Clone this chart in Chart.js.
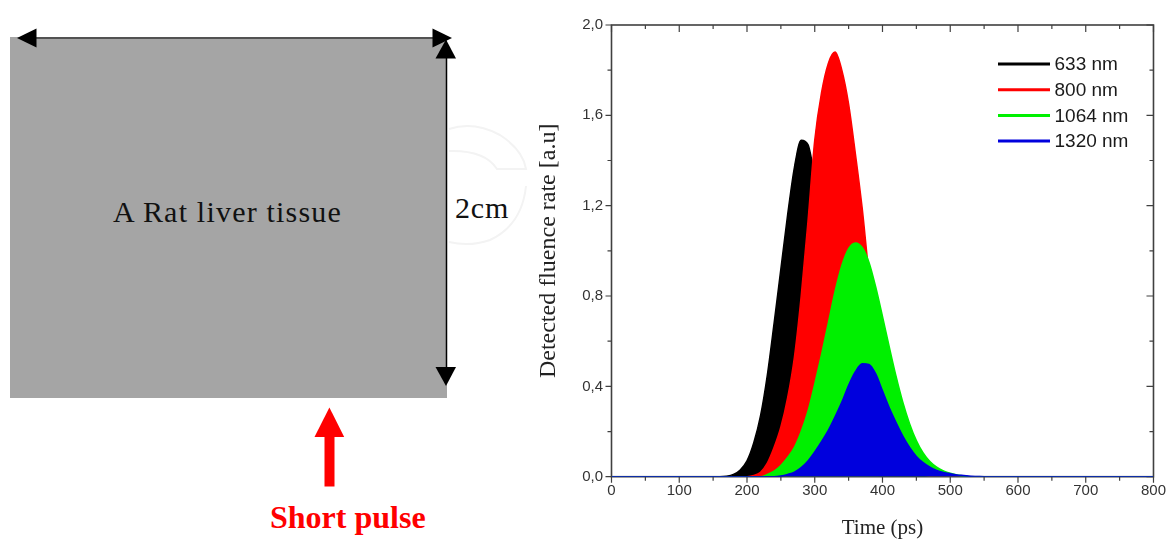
<!DOCTYPE html>
<html>
<head>
<meta charset="utf-8">
<title>Detected fluence rate</title>
<script src="https://cdn.jsdelivr.net/npm/chart.js"></script>
<style>
  html, body { margin: 0; padding: 0; background: #fff; }
  #page { position: relative; width: 1171px; height: 540px; overflow: hidden; }
  #sketch { position: absolute; left: 0; top: 0; }
  #plot { position: absolute; left: 530px; top: 0; width: 641px; height: 540px; }
</style>
</head>
<body>
<div id="page">
  <svg id="sketch" width="530" height="540" xmlns="http://www.w3.org/2000/svg">
    <!-- faint watermark behind the sample -->
    <path d="M449,129 Q474,121 500,135 Q523,150 526,169 L497,169 Q485,150 449,151" fill="none" stroke="#f3f3f3" stroke-width="2"/>
    <path d="M526,186 Q522,225 490,240 Q470,247 449,242" fill="none" stroke="#f3f3f3" stroke-width="2"/>
    <rect x="10" y="37" width="437" height="361" fill="#a5a5a5"/>
    <line x1="30" y1="38" x2="440" y2="38" stroke="#000" stroke-width="1.2"/>
    <polygon points="17,38 36.5,28.5 36.5,47.5" fill="#000"/>
    <polygon points="452,38 432.5,28.5 432.5,47.5" fill="#000"/>
    <line x1="446.5" y1="55" x2="446.5" y2="370" stroke="#000" stroke-width="1.5"/>
    <polygon points="446,39.5 435.5,58.5 456,58.5" fill="#000"/>
    <polygon points="446,386 435.5,367 456,367" fill="#000"/>
    <rect x="324.5" y="436" width="10" height="50.5" fill="#ff0000"/>
    <polygon points="314.5,437 344.2,437 329.4,407.5" fill="#ff0000"/>
    <text x="113" y="222" font-family="'Liberation Serif', 'Times New Roman', serif" font-size="30" letter-spacing="1.2" fill="#111">A Rat liver tissue</text>
    <text x="455" y="217.5" font-family="'Liberation Serif', 'Times New Roman', serif" font-size="30" letter-spacing="0.8" fill="#111">2cm</text>
    <text x="270" y="527.5" font-family="'Liberation Serif', 'Times New Roman', serif" font-size="32" font-weight="bold" fill="#ff0000">Short pulse</text>
  </svg>
  <div id="plot"><canvas id="fluence"></canvas></div>
</div>
<script>
// time axis (ps), shared by all four pulses
const times = [0, 150, 160, 170, 180, 190, 200, 210, 220, 230, 240, 250, 260, 270, 280, 290,
  300, 310, 320, 330, 340, 350, 360, 370, 380, 390, 400, 410, 420, 430, 440, 450, 460, 470,
  480, 490, 500, 510, 520, 530, 540, 550, 560, 570, 580, 590, 600, 800]

// detected fluence rate [a.u]
const nm633 = [0, 0, 0, 0.002, 0.01, 0.03, 0.07, 0.15, 0.27, 0.45, 0.68, 0.92, 1.16, 1.37, 1.49, 1.47,
  1.32, 1.10, 0.82, 0.56, 0.36, 0.21, 0.11, 0.05, 0.02, 0.008, 0.002, 0, 0, 0, 0, 0, 0, 0,
  0, 0, 0, 0, 0, 0, 0, 0, 0, 0, 0, 0, 0, 0]
const nm800 = [0, 0, 0, 0, 0, 0, 0, 0.005, 0.02, 0.06, 0.13, 0.22, 0.35, 0.53, 0.80, 1.13,
  1.49, 1.70, 1.83, 1.88, 1.80, 1.65, 1.43, 1.19, 0.90, 0.68, 0.47, 0.30, 0.18, 0.10, 0.05, 0.02, 0.008, 0.002,
  0, 0, 0, 0, 0, 0, 0, 0, 0, 0, 0, 0, 0, 0]
const nm1064 = [0, 0, 0, 0, 0, 0, 0, 0, 0, 0.01, 0.025, 0.05, 0.085, 0.13, 0.20, 0.29,
  0.41, 0.54, 0.68, 0.82, 0.935, 1.01, 1.035, 1.015, 0.95, 0.84, 0.71, 0.575, 0.445, 0.33, 0.235, 0.16, 0.105, 0.067,
  0.042, 0.026, 0.015, 0.008, 0.003, 0, 0, 0, 0, 0, 0, 0, 0, 0]
const nm1320 = [0, 0, 0, 0, 0, 0, 0, 0, 0, 0, 0, 0.003, 0.01, 0.02, 0.04, 0.07,
  0.11, 0.155, 0.205, 0.265, 0.33, 0.405, 0.465, 0.50, 0.497, 0.455, 0.38, 0.305, 0.24, 0.18, 0.13, 0.09, 0.062, 0.042,
  0.028, 0.019, 0.013, 0.008, 0.005, 0.002, 0.001, 0, 0, 0, 0, 0, 0, 0]

const labels = ['633 nm', '800 nm', '1064 nm', '1320 nm']
const colors = ['#000000', '#ff0000', '#00f000', '#0000dd']

const sans = '"Liberation Sans", Arial, sans-serif'
const serif = '"Liberation Serif", "Times New Roman", serif'

function series(i, values) {
  return {
    label: labels[i],
    order: labels.length - i, // later wavelengths drawn on top
    data: times.map((t, k) => ({ x: t, y: values[k] })),
    borderColor: colors[i],
    backgroundColor: colors[i],
    borderWidth: 1.5,
    fill: 'origin',
    pointRadius: 0,
    cubicInterpolationMode: 'monotone',
  }
}

const isMajorY = v => Math.round(v * 10) % 4 === 0

// Origin style frame: ticks outward on left/bottom, inward on top/right
const frameTicks = {
  id: 'frameTicks',
  beforeDatasetsDraw(chart) {
    const { ctx, chartArea: a, scales: { x, y } } = chart
    ctx.save()
    ctx.strokeStyle = '#404040'
    ctx.lineWidth = 1.6
    ctx.strokeRect(a.left, a.top, a.right - a.left, a.bottom - a.top)
    ctx.lineWidth = 1.2
    ctx.beginPath()
    x.ticks.forEach(t => {
      const px = x.getPixelForValue(t.value)
      const major = t.value % 100 === 0
      ctx.moveTo(px, a.bottom); ctx.lineTo(px, a.bottom + (major ? 6 : 4))
      ctx.moveTo(px, a.top); ctx.lineTo(px, a.top + (major ? 7 : 4))
    })
    y.ticks.forEach(t => {
      const py = y.getPixelForValue(t.value)
      const major = isMajorY(t.value)
      ctx.moveTo(a.left, py); ctx.lineTo(a.left - (major ? 6 : 4), py)
      ctx.moveTo(a.right, py); ctx.lineTo(a.right - (major ? 7 : 4), py)
    })
    ctx.stroke()
    ctx.restore()
  }
}

// legend sits inside the plot, top right
const innerLegend = {
  id: 'innerLegend',
  afterDraw(chart) {
    const { ctx, chartArea: a } = chart
    ctx.save()
    ctx.font = '19px ' + sans
    ctx.textBaseline = 'middle'
    chart.data.datasets.forEach((ds, i) => {
      const yy = a.top + 39 + i * 25.7
      ctx.strokeStyle = ds.borderColor
      ctx.lineWidth = 3
      ctx.beginPath()
      ctx.moveTo(a.left + 386.5, yy)
      ctx.lineTo(a.left + 438.5, yy)
      ctx.stroke()
      ctx.fillStyle = '#1a1a1a'
      ctx.fillText(ds.label, a.left + 443, yy + 1)
    })
    ctx.restore()
  }
}

const fluenceConfig = {
  type: 'line',
  data: {
    datasets: [series(0, nm633), series(1, nm800), series(2, nm1064), series(3, nm1320)],
  },
  options: {
    responsive: true,
    maintainAspectRatio: false,
    animation: false,
    layout: { padding: { top: 25, right: 15, left: 0, bottom: 0 } },
    plugins: { legend: { display: false }, tooltip: { enabled: false } },
    scales: {
      x: {
        type: 'linear',
        min: 0,
        max: 800,
        grid: { display: false, drawTicks: false },
        border: { display: false },
        ticks: {
          stepSize: 50,
          autoSkip: false,
          maxRotation: 0,
          padding: 5,
          color: '#333',
          font: { family: sans, size: 15 },
          callback: v => (v % 100 === 0 ? String(v) : ''),
        },
        title: {
          display: true,
          text: 'Time (ps)',
          color: '#222',
          font: { family: serif, size: 21, lineHeight: 1.05 },
          padding: { top: 0, bottom: 0 },
        },
        afterFit: s => { s.height = 63.3 },
      },
      y: {
        min: 0,
        max: 2,
        grid: { display: false, drawTicks: false },
        border: { display: false },
        ticks: {
          stepSize: 0.2,
          autoSkip: false,
          padding: 8.5,
          color: '#333',
          font: { family: sans, size: 15 },
          callback: v => (isMajorY(v) ? (Math.round(v * 10) / 10).toFixed(1).replace('.', ',') : ''),
        },
        title: {
          display: true,
          text: 'Detected fluence rate [a.u]',
          color: '#222',
          font: { family: serif, size: 24 },
          padding: { top: 4, bottom: 0 },
        },
        afterFit: s => { s.width = 81.5 },
      },
    },
  },
  plugins: [frameTicks, innerLegend],
}

const fluenceCtx = document.getElementById('fluence')
window.fluenceChart = new Chart(fluenceCtx, fluenceConfig)
</script>
</body>
</html>
